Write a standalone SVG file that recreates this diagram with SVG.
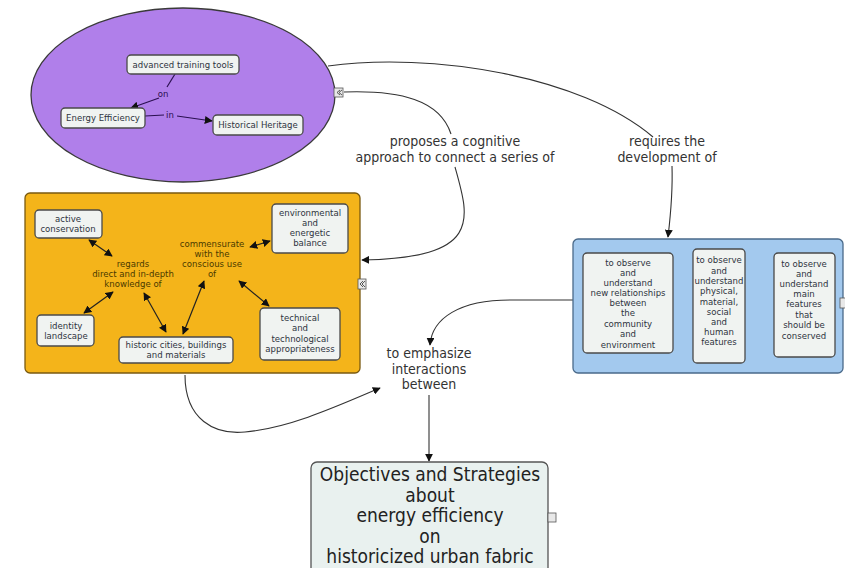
<svg xmlns="http://www.w3.org/2000/svg" width="845" height="568" viewBox="0 0 845 568">
<style>
text{font-family:"DejaVu Sans Condensed","DejaVu Sans",sans-serif;text-anchor:middle;}
.n{fill:#f0f3f1;stroke:#4a4a4a;stroke-width:1.3;}
.t{font-size:9.5px;fill:#2e3440;}
.ot{font-size:9.5px;fill:#4a3a00;}
.lab{font-size:14px;fill:#333;}
.c{fill:none;stroke:#333;stroke-width:1.1;}
.d{fill:none;stroke:#222;stroke-width:1.2;marker-start:url(#as);marker-end:url(#ae);}
.ic{fill:#e8e8e8;stroke:#555;stroke-width:0.8;}
</style>
<defs>
<marker id="ae" viewBox="0 0 10 10" refX="9" refY="5" markerWidth="8" markerHeight="8" markerUnits="userSpaceOnUse" orient="auto"><path d="M0,0 L10,5 L0,10 z" fill="#111"/></marker>
<marker id="as" viewBox="0 0 10 10" refX="1" refY="5" markerWidth="8" markerHeight="8" markerUnits="userSpaceOnUse" orient="auto"><path d="M10,0 L0,5 L10,10 z" fill="#111"/></marker>
</defs>

<g id="connectors">
<path class="c" d="M 328 66 C 430 52, 580 75, 653 137"/>
<path class="c" d="M 672 166 C 673 195, 670 220, 668 237" marker-end="url(#ae)"/>
<path class="c" d="M 344 92 C 400 90, 440 100, 451 134"/>
<path class="c" d="M 455 167 C 470 220, 482 258, 362 260" marker-end="url(#ae)"/>
<path class="c" d="M 573 300 L 510 300 C 460 300, 432 318, 430 345" marker-end="url(#ae)"/>
<path class="c" d="M 185 375 C 185 420, 215 435, 245 432 C 290 428, 340 405, 380 388" marker-end="url(#ae)"/>
<path class="c" d="M 429 395 L 429 461" marker-end="url(#ae)"/>
</g>

<g id="ellipse-group">
<ellipse cx="183" cy="95" rx="152" ry="87" fill="#b07fea" stroke="#3a3a3a" stroke-width="1.3"/>
<rect class="ic" x="334" y="88" width="9" height="9"/>
<path d="M340,90 L337,92.5 L340,95 M342,90 L339,92.5 L342,95" fill="none" stroke="#333" stroke-width="0.8"/>
<g id="inner-links">
<path fill="none" stroke="#2a1050" stroke-width="1.2" d="M 175 74 L 167 87"/>
<path fill="none" stroke="#2a1050" stroke-width="1.2" d="M 159 98 L 131 108" marker-end="url(#ae)"/>
<path fill="none" stroke="#2a1050" stroke-width="1.2" d="M 145 116 L 164 115"/>
<path fill="none" stroke="#2a1050" stroke-width="1.2" d="M 177 116 L 212 121" marker-end="url(#ae)"/>
<text x="163" y="97" style="font-size:9.5px;fill:#2a1050">on</text>
<text x="170" y="118" style="font-size:9.5px;fill:#2a1050">in</text>
</g>
</g>
<g id="advanced-training-tools"><rect class="n" x="127" y="55" width="112" height="19" rx="4"/><text class="t" x="183" y="68">advanced training tools</text></g>
<g id="energy-efficiency"><rect class="n" x="61" y="108" width="84" height="20" rx="4"/><text class="t" x="103" y="121">Energy Efficiency</text></g>
<g id="historical-heritage"><rect class="n" x="213" y="115" width="90" height="20" rx="4"/><text class="t" x="258" y="128">Historical Heritage</text></g>

<g id="orange-group">
<rect x="25" y="193" width="335" height="180" rx="5" fill="#f4b41a" stroke="#7a5a10" stroke-width="1.3"/>
<rect class="ic" x="358" y="279" width="8" height="10"/>
<path d="M363,281 L360,284 L363,287 M365,281 L362,284 L365,287" fill="none" stroke="#333" stroke-width="0.8"/>
<path class="d" d="M 89 240 L 112 256"/>
<path class="d" d="M 84 313 L 113 292"/>
<path class="d" d="M 166 332 L 144 293"/>
<path class="d" d="M 183 334 L 204 281"/>
<path class="d" d="M 250 247 L 270 241"/>
<path class="d" d="M 239 281 L 269 306"/>
<g id="regards"><text class="ot" x="133" y="267">regards</text><text class="ot" x="133" y="277">direct and in-depth</text><text class="ot" x="133" y="287">knowledge of</text></g>
<g id="commensurate"><text class="ot" x="212" y="247">commensurate</text><text class="ot" x="212" y="257">with the</text><text class="ot" x="212" y="267">conscious use</text><text class="ot" x="212" y="277">of</text></g>
</g>
<g id="active-conservation"><rect class="n" x="35" y="210" width="67" height="28" rx="4"/><text class="t" x="68" y="222">active</text><text class="t" x="68" y="232">conservation</text></g>
<g id="environmental"><rect class="n" x="272" y="204" width="76" height="49" rx="4"/><text class="t" x="310" y="216">environmental</text><text class="t" x="310" y="226">and</text><text class="t" x="310" y="236">energetic</text><text class="t" x="310" y="246">balance</text></g>
<g id="identity-landscape"><rect class="n" x="37" y="315" width="57" height="31" rx="4"/><text class="t" x="66" y="329">identity</text><text class="t" x="66" y="339">landscape</text></g>
<g id="historic-cities"><rect class="n" x="119" y="337" width="114" height="26" rx="4"/><text class="t" x="176" y="348">historic cities, buildings</text><text class="t" x="176" y="358">and materials</text></g>
<g id="technical"><rect class="n" x="260" y="308" width="80" height="52" rx="4"/><text class="t" x="300" y="321">technical</text><text class="t" x="300" y="331">and</text><text class="t" x="300" y="342">technological</text><text class="t" x="300" y="352">appropriateness</text></g>

<g id="blue-group">
<rect x="573" y="239" width="270" height="134" rx="5" fill="#a3c9ee" stroke="#4a6a8a" stroke-width="1.3"/>
<rect class="ic" x="840" y="298" width="6" height="10"/>
</g>
<g id="observe-1"><rect class="n" x="583" y="253" width="90" height="100" rx="4"/>
<text class="t" x="628" y="266">to observe</text><text class="t" x="628" y="276">and</text><text class="t" x="628" y="286">understand</text><text class="t" x="628" y="296">new relationships</text><text class="t" x="628" y="306">between</text><text class="t" x="628" y="316">the</text><text class="t" x="628" y="327">community</text><text class="t" x="628" y="337">and</text><text class="t" x="628" y="348">environment</text></g>
<g id="observe-2"><rect class="n" x="693" y="249" width="52" height="114" rx="4"/>
<text class="t" x="719" y="263">to observe</text><text class="t" x="719" y="274">and</text><text class="t" x="719" y="284">understand</text><text class="t" x="719" y="294">physical,</text><text class="t" x="719" y="305">material,</text><text class="t" x="719" y="315">social</text><text class="t" x="719" y="325">and</text><text class="t" x="719" y="335">human</text><text class="t" x="719" y="345">features</text></g>
<g id="observe-3"><rect class="n" x="774" y="253" width="61" height="104" rx="4"/>
<text class="t" x="804" y="267">to observe</text><text class="t" x="804" y="277">and</text><text class="t" x="804" y="287">understand</text><text class="t" x="804" y="297">main</text><text class="t" x="804" y="307">features</text><text class="t" x="804" y="318">that</text><text class="t" x="804" y="328">should be</text><text class="t" x="804" y="339">conserved</text></g>

<g id="label-proposes"><text class="lab" x="455" y="146">proposes a cognitive</text><text class="lab" x="455" y="162">approach to connect a series of</text></g>
<g id="label-requires"><text class="lab" x="667" y="146">requires the</text><text class="lab" x="667" y="162">development of</text></g>
<g id="label-emphasize"><text class="lab" x="429" y="358">to emphasize</text><text class="lab" x="429" y="374">interactions</text><text class="lab" x="429" y="389">between</text></g>

<g id="objectives"><rect x="311" y="462" width="237" height="120" rx="6" fill="#e9f1ef" stroke="#555" stroke-width="1.3"/>
<rect class="ic" x="548" y="513" width="8" height="9"/>
<text style="font-size:19px;fill:#222" x="430" y="481">Objectives and Strategies</text>
<text style="font-size:19px;fill:#222" x="430" y="502">about</text>
<text style="font-size:19px;fill:#222" x="430" y="522">energy efficiency</text>
<text style="font-size:19px;fill:#222" x="430" y="543">on</text>
<text style="font-size:19px;fill:#222" x="430" y="563">historicized urban fabric</text></g>
</svg>
